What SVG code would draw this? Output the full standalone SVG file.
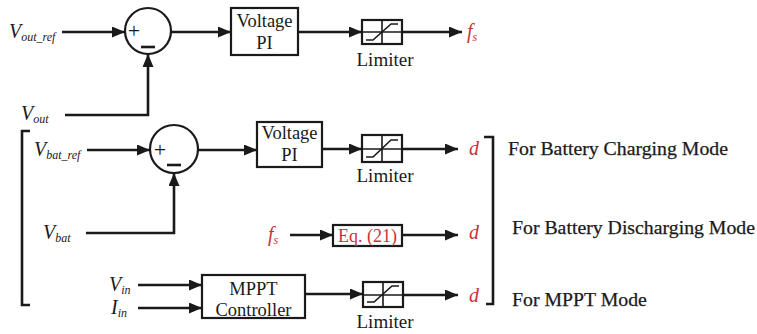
<svg xmlns="http://www.w3.org/2000/svg" width="757" height="334" viewBox="0 0 757 334">
<defs>
<style>
.ln{fill:none;stroke:#1a1a1a;stroke-width:2.6}
.bx{fill:#fff;stroke:#1a1a1a;stroke-width:2.2}
.th{fill:none;stroke:#1a1a1a;stroke-width:1.6}
.t{font-family:"Liberation Serif","Times New Roman",serif;fill:#1a1a1a}
.bl{font-size:18.5px;text-anchor:middle}
.lab{font-size:19px}
.md{font-size:19.8px;stroke:#1a1a1a;stroke-width:0.25}
.v{font-size:20px;font-style:italic}
.sub{font-size:12px;font-style:italic}
.red{fill:#c8323c}
.sym{font-size:22px;text-anchor:middle}
</style>
<marker id="ah" markerUnits="userSpaceOnUse" markerWidth="13" markerHeight="11" refX="13" refY="5.5" orient="auto">
<path d="M0,0 L13,5.5 L0,11 z" fill="#1a1a1a"/>
</marker>
</defs>
<rect width="757" height="334" fill="#fff"/>

<g id="connectors">
<path class="ln" marker-end="url(#ah)" d="M62,32 H125"/>
<path class="ln" marker-end="url(#ah)" d="M171,32 H231"/>
<path class="ln" marker-end="url(#ah)" d="M298,32 H362"/>
<path class="ln" marker-end="url(#ah)" d="M402,32 H462"/>
<path class="ln" marker-end="url(#ah)" d="M65,115 H148 V54"/>
<path class="ln" marker-end="url(#ah)" d="M87,150 H150"/>
<path class="ln" marker-end="url(#ah)" d="M198,150 H257"/>
<path class="ln" marker-end="url(#ah)" d="M322,149 H362"/>
<path class="ln" marker-end="url(#ah)" d="M402,149 H458"/>
<path class="ln" marker-end="url(#ah)" d="M86,233 H174 V173"/>
<path class="ln" marker-end="url(#ah)" d="M290,235 H333"/>
<path class="ln" marker-end="url(#ah)" d="M402,235 H458"/>
<path class="ln" marker-end="url(#ah)" d="M138,285 H202"/>
<path class="ln" marker-end="url(#ah)" d="M138,308 H202"/>
<path class="ln" marker-end="url(#ah)" d="M305,294 H363"/>
<path class="ln" marker-end="url(#ah)" d="M403,295 H458"/>
<path class="ln" d="M30,131 H22 V305 H30"/>
<path class="ln" d="M484,137 H493 V304 H486"/>
</g>

<g id="sum1">
<circle class="bx" cx="148" cy="31" r="23"/>
<text class="t sym" x="134" y="38">+</text>
<path class="ln" d="M141,47 H155"/>
</g>
<g id="pi1">
<rect class="bx" x="231" y="8" width="67" height="47"/>
<text class="t bl" x="264.5" y="27">Voltage</text>
<text class="t bl" x="264.5" y="49">PI</text>
</g>
<g id="lim1">
<rect class="bx" x="362" y="20" width="40" height="24"/>
<path class="th" d="M382,20 V44 M362,32 H402"/>
<path class="th" d="M366,40 H373 L391,24 H398"/>
<text class="t lab" x="385" y="66" text-anchor="middle">Limiter</text>
</g>

<g id="sum2">
<circle class="bx" cx="174" cy="149" r="24"/>
<text class="t sym" x="160" y="157">+</text>
<path class="ln" d="M167,165 H181"/>
</g>
<g id="pi2">
<rect class="bx" x="257" y="122" width="65" height="45"/>
<text class="t bl" x="289.5" y="139">Voltage</text>
<text class="t bl" x="289.5" y="161">PI</text>
</g>
<g id="lim2">
<rect class="bx" x="362" y="135" width="40" height="27"/>
<path class="th" d="M382,135 V162 M362,149 H402"/>
<path class="th" d="M366,157 H373 L391,140 H398"/>
<text class="t lab" x="385" y="182" text-anchor="middle">Limiter</text>
</g>

<g id="eq21">
<rect class="bx" x="333" y="225" width="69" height="21" fill="#fff6f6"/>
<text class="t red" x="367.5" y="242" font-size="18" text-anchor="middle">Eq. (21)</text>
</g>

<g id="mppt">
<rect class="bx" x="202" y="275" width="103" height="43"/>
<text class="t bl" x="253.5" y="295">MPPT</text>
<text class="t bl" x="253.5" y="316">Controller</text>
</g>
<g id="lim3">
<rect class="bx" x="363" y="282" width="40" height="25"/>
<path class="th" d="M383,282 V307 M363,295 H403"/>
<path class="th" d="M367,302 H374 L392,286 H399"/>
<text class="t lab" x="385" y="328" text-anchor="middle">Limiter</text>
</g>

<g id="labels">
<text class="t v" x="9" y="38">V<tspan class="sub" dy="3">out_ref</tspan></text>
<text class="t v" x="21" y="120">V<tspan class="sub" dy="3">out</tspan></text>
<text class="t v" x="34" y="156">V<tspan class="sub" dy="3">bat_ref</tspan></text>
<text class="t v" x="43" y="239">V<tspan class="sub" dy="3">bat</tspan></text>
<text class="t v" x="109" y="291">V<tspan class="sub" dy="3">in</tspan></text>
<text class="t v" x="111" y="314">I<tspan class="sub" dy="3">in</tspan></text>
<text class="t v red" x="467" y="38">f<tspan class="sub" dy="3">s</tspan></text>
<text class="t v red" x="268" y="241">f<tspan class="sub" dy="3">s</tspan></text>
<text class="t v red" x="469" y="155">d</text>
<text class="t v red" x="469" y="239">d</text>
<text class="t v red" x="469" y="302">d</text>
<text class="t md" x="508" y="155">For Battery Charging Mode</text>
<text class="t md" x="512" y="234">For Battery Discharging Mode</text>
<text class="t md" x="512" y="306">For MPPT Mode</text>
</g>
</svg>
